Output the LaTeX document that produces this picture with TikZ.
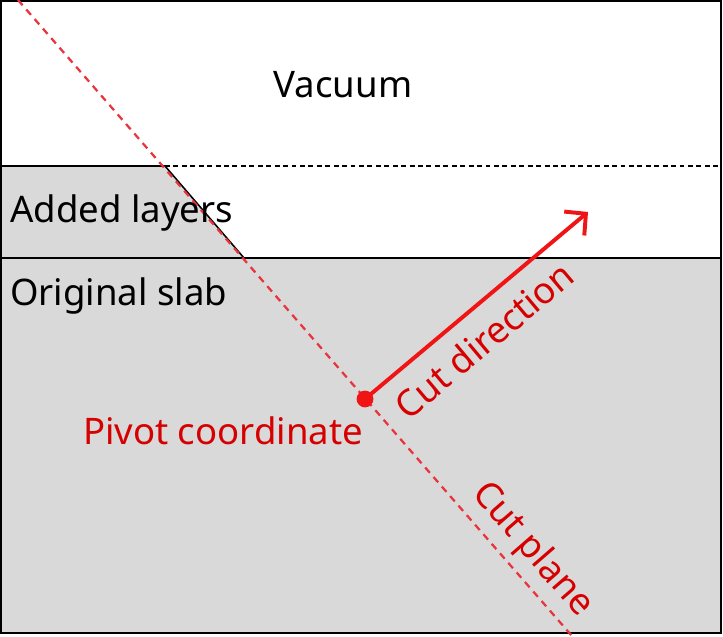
\documentclass[tikz,border=0pt]{standalone}
\usepackage{fontspec}
\setmainfont{Noto Sans}
\usetikzlibrary{arrows.meta,calc,positioning}
\definecolor{slabgray}{RGB}{217,217,217}
\definecolor{cutred}{RGB}{232,52,60}
\definecolor{arrowred}{RGB}{240,20,20}
\definecolor{labelred}{RGB}{214,0,0}

\begin{document}
\begin{tikzpicture}[>=Stealth,
  lbl/.style={font=\fontsize{26}{31}\selectfont,inner sep=0pt},
  redlbl/.style={lbl,text=labelred}]
\useasboundingbox (0,0) rectangle (18.075,15.9);
% slab and added layers
\fill[slabgray] (0.025,0.075) -- (18.025,0.075) -- (18.025,9.45) -- (6.1,9.45) -- (4.125,11.75) -- (0.025,11.75) -- cycle;
\draw[line width=1.1pt] (0.025,11.75) -- (4.125,11.75) -- (6.1,9.45);
\draw[line width=1.1pt,dash pattern=on 3.5pt off 2.5pt] (4.125,11.75) -- (18.025,11.75);
\draw[line width=1.1pt] (0.025,9.45) -- (18.025,9.45);
\draw[line width=1.1pt] (0.025,0.075) rectangle (18.025,15.875);
% cut plane
\coordinate (planetop) at (0.45,15.9);
\coordinate (planebot) at (14.3,0);
\draw[cutred,line width=1.6pt,dash pattern=on 5pt off 4pt] (planetop) -- (planebot);
% pivot and cut direction
\node[circle,fill=arrowred,minimum size=0.42cm,inner sep=0pt] (pivot) at (9.125,5.925) {};
\coordinate (tip) at (14.7,10.6);
\draw[arrowred,line width=2.8pt,-{Straight Barb[length=0.38cm,width=0.78cm]}] (pivot.center) -- (tip);
% labels
\node[lbl] (vac) at (8.575,13.775) {Vacuum};
\node[lbl,anchor=west] (added) at (0.25,10.575) {Added layers};
\node[lbl,anchor=west] (orig) at (0.25,8.5) {Original slab};
\node[redlbl] (pivlbl) at (5.575,5.125) {Pivot coordinate};
\node[redlbl,rotate=40] (dirlbl) at (12.1,7.4) {Cut direction};
\node[redlbl,rotate=-49] (planelbl) at (13.3,2.15) {Cut plane};
\end{tikzpicture}
\end{document}
